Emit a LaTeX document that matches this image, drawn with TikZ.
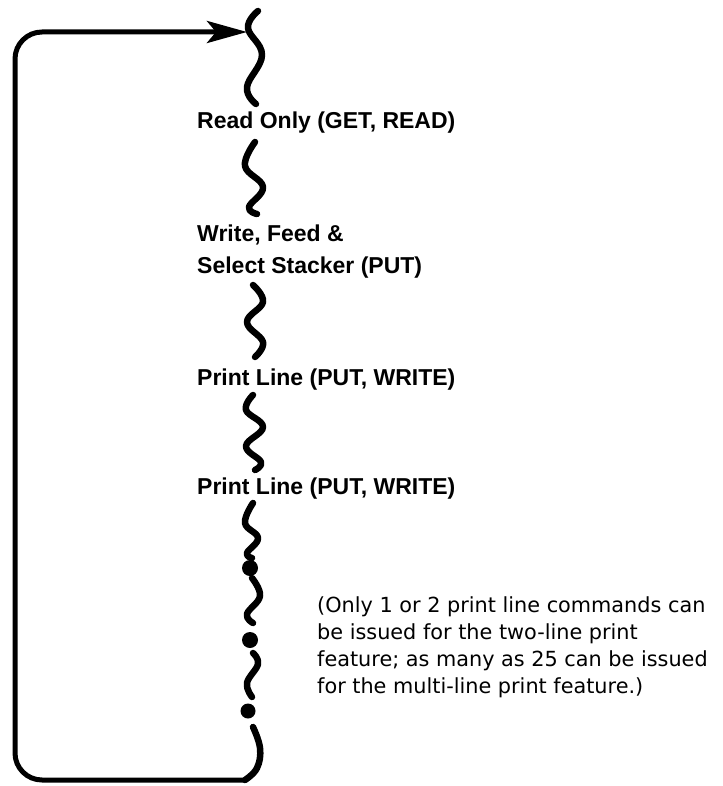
\documentclass[tikz,border=0pt]{standalone}
\usepackage{fontspec}
\setmainfont{Liberation Sans}
\newfontfamily\notefont{DejaVu Sans}
\usetikzlibrary{arrows.meta}
\begin{document}
\begin{tikzpicture}[x=1pt,y=-1pt,
  squig/.style={line width=6.5pt, line cap=round, line join=round},
  loopline/.style={line width=5pt, line cap=round, line join=round},
  lbl/.style={anchor=base west, inner sep=0pt, font=\bfseries\fontsize{23}{32}\selectfont, align=left},
  notetext/.style={anchor=base west, inner sep=0pt, font=\notefont\fontsize{20.8}{27}\selectfont, align=left},
  bigdot/.style={circle, fill=black, inner sep=0pt, minimum size=16pt}]
\path[use as bounding box, fill=white] (0,0) rectangle (722,786);

% squiggles (break marks)
\draw[squig] plot[smooth, tension=0.7] coordinates {(258,11) (248,28) (262,55) (247,87) (256,104)};
\coordinate (tip) at (247,32);
\draw[squig] plot[smooth, tension=0.7] coordinates {(255,142) (245,166) (263,187) (249,207) (257,214)};
\draw[squig] plot[smooth, tension=0.7] coordinates {(253,285) (263,302) (247,322) (263,342) (255,357)};
\draw[squig] plot[smooth, tension=0.7] coordinates {(253,395) (246,410) (263,427) (246,446) (261,462) (255,470)};
\draw[squig] plot[smooth, tension=0.7] coordinates {(253,503) (245,523) (258,538) (247,553) (252,558)};
\node[bigdot] (d1) at (250,568) {};
\draw[squig] plot[smooth, tension=0.7] coordinates {(252,578) (260,596) (247,614) (253,623)};
\node[bigdot] (d2) at (250,640) {};
\draw[squig] plot[smooth, tension=0.7] coordinates {(253,653) (258,664) (247,683) (252,697)};
\node[bigdot, minimum size=15pt] (d3) at (248,711) {};
\draw[squig] plot[smooth, tension=0.7] coordinates {(253,727) (260,748) (257,768) (245,780)};
\coordinate (bottom) at (245,780);

% loop back connector
\draw[loopline, rounded corners=27pt, -{Stealth[length=40pt, width=22pt, inset=9pt]}]
  (bottom) -- (15,780) -- (15,32) -- (tip);

% labels
\node[lbl] (read) at (197,129) {Read Only (GET, READ)};
\node[lbl] (write) at (197,273) {Write, Feed \&\\Select Stacker (PUT)};
\node[lbl] (print1) at (197,385) {Print Line (PUT, WRITE)};
\node[lbl] (print2) at (197,494) {Print Line (PUT, WRITE)};
\node[notetext] (note) at (317,693) {(Only 1 or 2 print line commands can\\be issued for the two-line print\\feature; as many as 25 can be issued\\for the multi-line print feature.)};
\end{tikzpicture}
\end{document}
